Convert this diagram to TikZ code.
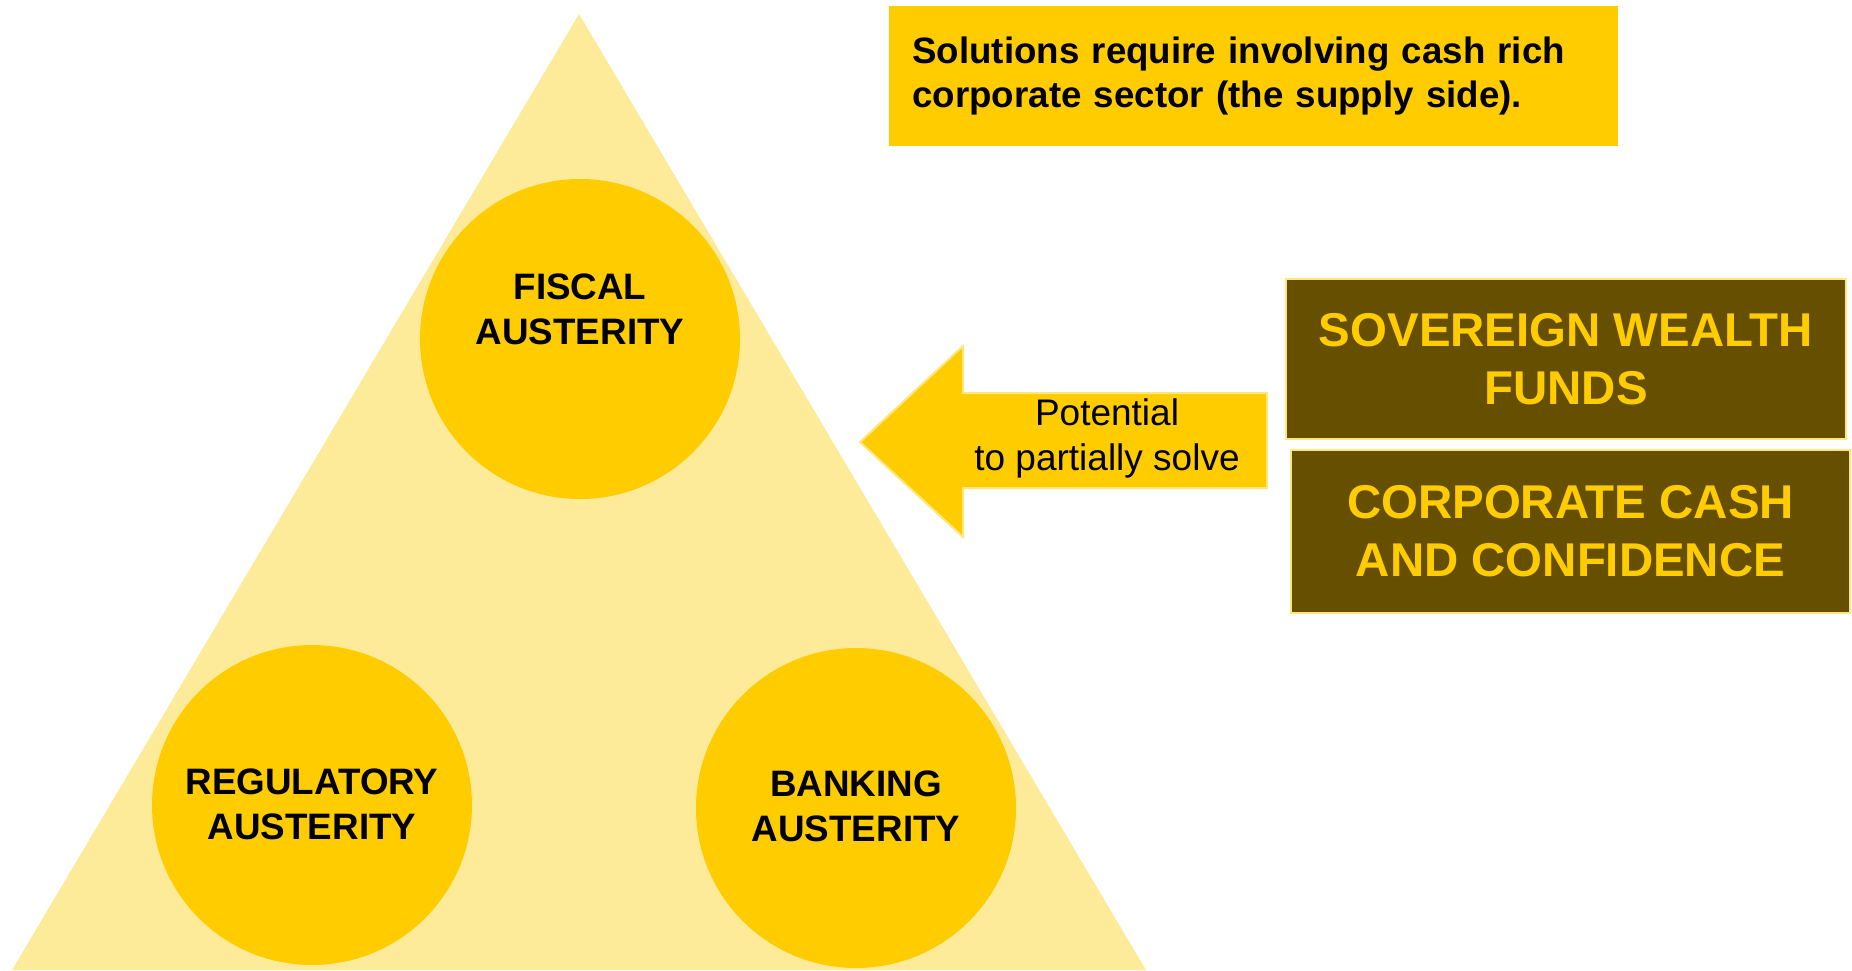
\documentclass[tikz,border=0pt]{standalone}
\usepackage{fontspec}
\setmainfont{Liberation Sans}
\usepackage{tikz}

\definecolor{gold}{HTML}{FFCC00}
\definecolor{paleyellow}{HTML}{FDEB9A}
\definecolor{rimyellow}{HTML}{FFE680}
\definecolor{darkolive}{HTML}{665000}

\begin{document}
\begin{tikzpicture}[x=0.5pt, y=-0.5pt,
    bubble/.style={circle, fill=gold, minimum size=160pt, inner sep=0pt},
    bubbletext/.style={align=center, font=\fontsize{18.4}{22.5}\selectfont\bfseries},
    fundbox/.style={draw=rimyellow, line width=1pt, fill=darkolive, text=gold, align=center,
        inner sep=0pt, font=\fontsize{23.7}{29}\selectfont\bfseries}]
            \useasboundingbox (0,0) rectangle (1852,970);

            % the pyramid and its three austerities
            \fill [paleyellow] (579,14) -- (1146,970) -- (12,970) -- cycle;
            \node [bubble] (fiscal) at (580,339) {};
            \node [bubble] (regulatory) at (312,805) {};
            \node [bubble] (banking) at (856,808) {};
            \node [bubbletext] (fiscaltext) at (580,309) {FISCAL\\AUSTERITY};
            \node [bubbletext] (regulatorytext) at (312,804) {REGULATORY\\AUSTERITY};
            \node [bubbletext] (bankingtext) at (856,806) {BANKING\\AUSTERITY};

            % note at the top
            \node [fill=gold, anchor=north west, minimum width=364.5pt, minimum height=70pt,
                text width=341.5pt, inner xsep=11.5pt, align=left,
                font=\fontsize{18.35}{22}\selectfont\bfseries] (note) at (889,6)
                {Solutions require involving cash rich\\corporate sector (the supply side).};

            % block arrow pointing at the pyramid
            \filldraw [fill=gold, draw=rimyellow, line width=1pt]
                (860,442) -- (963,346) -- (963,393) -- (1267,393) -- (1267,488)
                -- (963,488) -- (963,537) -- cycle;
            \node [align=center, font=\fontsize{18.5}{22.5}\selectfont] (potential) at (1107,438)
                {Potential\\to partially solve};

            % sources of funds
            \node [fundbox, minimum width=280pt, minimum height=80pt] (swf) at (1566,359)
                {SOVEREIGN WEALTH\\FUNDS};
            \node [fundbox, minimum width=279.5pt, minimum height=81.5pt] (cash) at (1570.5,531.5)
                {CORPORATE CASH\\AND CONFIDENCE};

        \end{tikzpicture}
\end{document}
